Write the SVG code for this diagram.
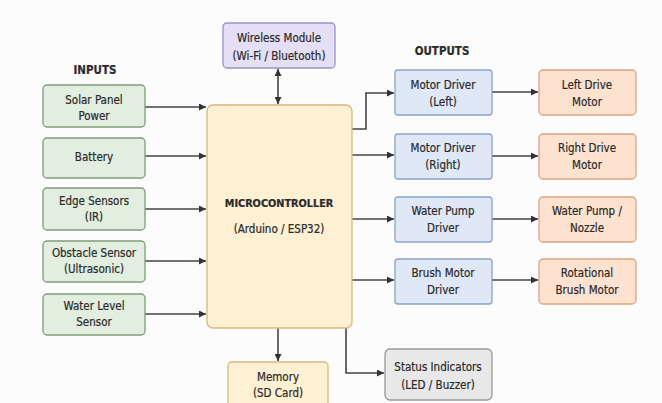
<svg xmlns="http://www.w3.org/2000/svg" width="662" height="403" viewBox="0 0 662 403">
<defs>
<marker id="ah" viewBox="0 0 10 10" refX="10" refY="5" markerWidth="7" markerHeight="7" markerUnits="userSpaceOnUse" orient="auto-start-reverse">
<path d="M0,0 L10,5 L0,10 z" fill="#333"/>
</marker>
<style>
text{font-family:"Liberation Sans Narrow","DejaVu Sans Condensed","Liberation Sans",sans-serif;font-size:11.5px;fill:#2a2a2a;text-anchor:middle;stroke:#2a2a2a;stroke-width:0.2}
.h{font-weight:bold;font-size:11.5px}
.m{font-weight:bold;font-size:10.8px}
.in{fill:#e2eedf;stroke:#7f9b7a;stroke-width:1.3}
.mc{fill:#fdf0d3;stroke:#d8b87c;stroke-width:1.3}
.wl{fill:#e4dff4;stroke:#9b90ca;stroke-width:1.3}
.dr{fill:#dfe8f7;stroke:#8ba1c9;stroke-width:1.3}
.mt{fill:#fde3cf;stroke:#dca47c;stroke-width:1.3}
.st{fill:#e8e8e8;stroke:#999;stroke-width:1.3}
.c{fill:none;stroke:#444;stroke-width:1.6;marker-end:url(#ah)}
</style>
</defs>
<rect width="662" height="403" fill="#fcfcfc"/>
<text class="h" x="95" y="74">INPUTS</text>
<text class="h" x="442" y="55">OUTPUTS</text>
<g id="connectors">
<path class="c" d="M145,107 H206"/>
<path class="c" d="M145,156 H206"/>
<path class="c" d="M145,209 H206"/>
<path class="c" d="M145,261 H206"/>
<path class="c" d="M145,314 H206"/>
<path class="c" d="M278,69 V104" style="marker-start:url(#ah)"/>
<path class="c" d="M278,328 V361"/>
<path class="c" d="M346,328 V373 H384"/>
<path class="c" d="M352,129 H366 V93 H394"/>
<path class="c" d="M352,155 H394"/>
<path class="c" d="M352,219 H394"/>
<path class="c" d="M352,280 H394"/>
<path class="c" d="M492,92 H538"/>
<path class="c" d="M492,156 H538"/>
<path class="c" d="M492,219 H538"/>
<path class="c" d="M492,280 H538"/>
</g>
<g id="solar"><rect class="in" x="43" y="85" width="102" height="42" rx="4"/><text x="94" y="104">Solar Panel</text><text x="94" y="120">Power</text></g>
<g id="battery"><rect class="in" x="43" y="138" width="102" height="40" rx="4"/><text x="94" y="161">Battery</text></g>
<g id="edge"><rect class="in" x="43" y="188" width="102" height="42" rx="4"/><text x="94" y="205">Edge Sensors</text><text x="94" y="221">(IR)</text></g>
<g id="obstacle"><rect class="in" x="43" y="241" width="102" height="41" rx="4"/><text x="94" y="257">Obstacle Sensor</text><text x="94" y="273">(Ultrasonic)</text></g>
<g id="waterlevel"><rect class="in" x="43" y="294" width="102" height="41" rx="4"/><text x="94" y="310">Water Level</text><text x="94" y="326">Sensor</text></g>
<g id="mcu"><rect class="mc" x="207" y="105" width="145" height="223" rx="6"/><text class="m" x="279" y="207">MICROCONTROLLER</text><text x="279" y="233">(Arduino / ESP32)</text></g>
<g id="wireless"><rect class="wl" x="223" y="23" width="112" height="45" rx="4"/><text x="279" y="42">Wireless Module</text><text x="279" y="60">(Wi-Fi / Bluetooth)</text></g>
<g id="memory"><rect class="mc" x="228" y="362" width="100" height="48" rx="4"/><text x="278" y="381">Memory</text><text x="278" y="397">(SD Card)</text></g>
<g id="status"><rect class="st" x="385" y="349" width="107" height="51" rx="5"/><text x="438" y="371">Status Indicators</text><text x="438" y="389">(LED / Buzzer)</text></g>
<g id="drvL"><rect class="dr" x="395" y="70" width="97" height="45" rx="3"/><text x="443" y="89">Motor Driver</text><text x="443" y="106">(Left)</text></g>
<g id="drvR"><rect class="dr" x="395" y="134" width="97" height="45" rx="3"/><text x="443" y="152">Motor Driver</text><text x="443" y="169">(Right)</text></g>
<g id="drvP"><rect class="dr" x="395" y="197" width="97" height="45" rx="3"/><text x="443" y="215">Water Pump</text><text x="443" y="232">Driver</text></g>
<g id="drvB"><rect class="dr" x="395" y="259" width="97" height="45" rx="3"/><text x="443" y="277">Brush Motor</text><text x="443" y="294">Driver</text></g>
<g id="motL"><rect class="mt" x="539" y="70" width="97" height="45" rx="4"/><text x="587" y="89">Left Drive</text><text x="587" y="106">Motor</text></g>
<g id="motR"><rect class="mt" x="539" y="134" width="97" height="45" rx="4"/><text x="587" y="152">Right Drive</text><text x="587" y="169">Motor</text></g>
<g id="pump"><rect class="mt" x="539" y="197" width="97" height="45" rx="4"/><text x="587" y="215">Water Pump /</text><text x="587" y="232">Nozzle</text></g>
<g id="brush"><rect class="mt" x="539" y="259" width="97" height="45" rx="4"/><text x="587" y="277">Rotational</text><text x="587" y="294">Brush Motor</text></g>
</svg>
